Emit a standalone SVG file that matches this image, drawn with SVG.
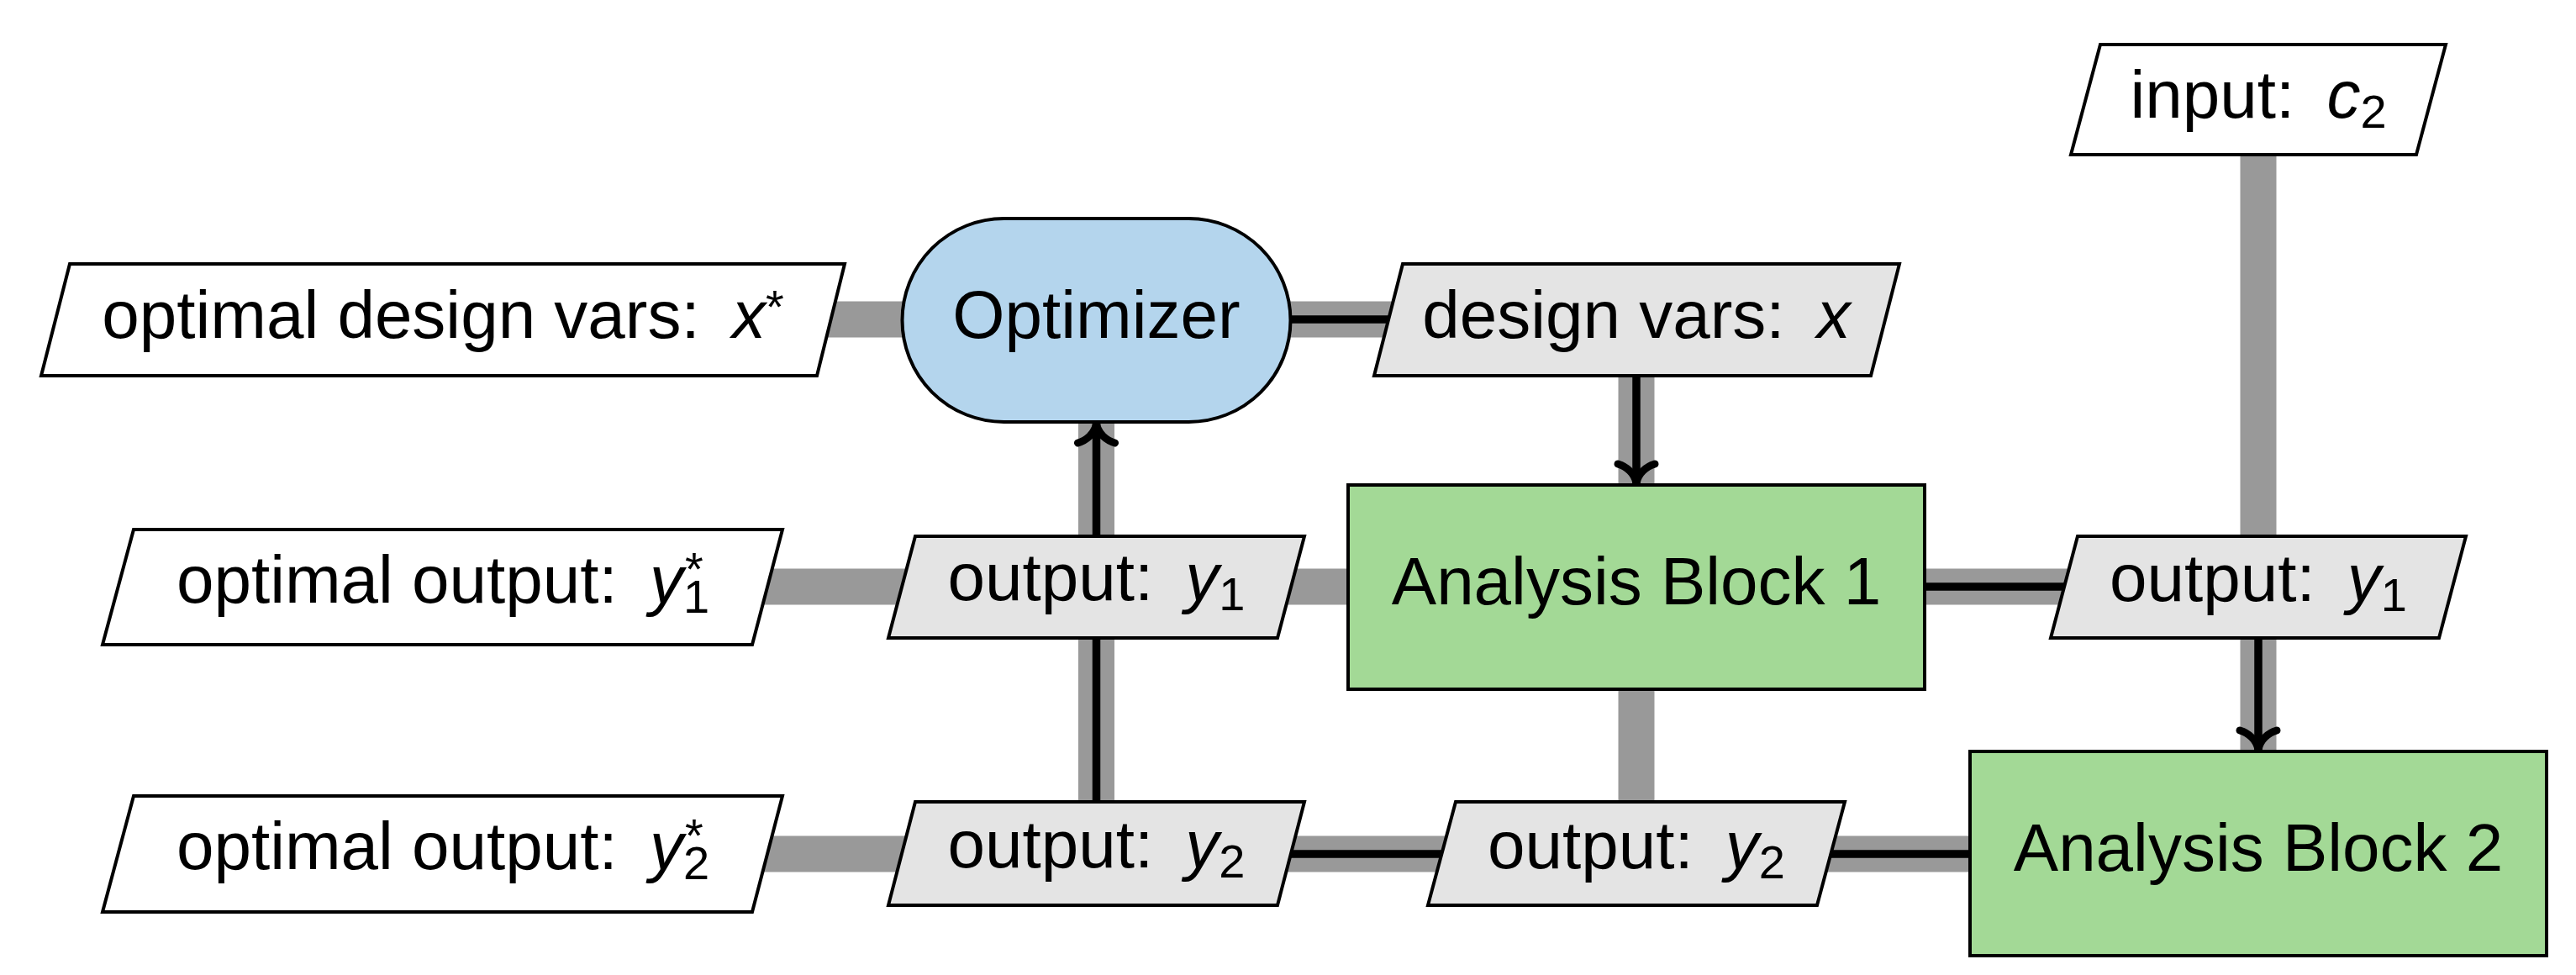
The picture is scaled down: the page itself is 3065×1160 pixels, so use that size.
<svg xmlns="http://www.w3.org/2000/svg" width="3065" height="1160" viewBox="0 0 3065 1160">
<style>
.bg{fill:#ffffff}
.data{fill:none;stroke:#999999;stroke-width:43;stroke-linecap:butt}
.proc{fill:none;stroke:#000000;stroke-width:9.5;stroke-linejoin:miter}
.io{fill:#ffffff;stroke:#000000;stroke-width:4;stroke-linejoin:miter}
.dat{fill:#e4e4e4;stroke:#000000;stroke-width:4;stroke-linejoin:miter}
.opt{fill:#b4d5ed;stroke:#000000;stroke-width:4}
.ana{fill:#a3d996;stroke:#000000;stroke-width:4}
.t{font-family:"Liberation Sans",Arial,sans-serif;font-size:80px;fill:#000000;text-anchor:middle}
.m{font-style:italic}
.s{font-size:56px}
</style>
<defs>
<marker id="arr" markerUnits="userSpaceOnUse" orient="auto" refX="0" refY="0" markerWidth="60" markerHeight="60" overflow="visible">
<path d="M-23,-22 C-20,-12 -12,-2 0,0 M-23,22 C-20,12 -12,2 0,0" fill="none" stroke="#000000" stroke-width="9" stroke-linecap="round"/>
</marker>
</defs>
<rect class="bg" x="0" y="0" width="3065" height="1160"/>
<g id="connectors">
<path class="data" d="M527,380 H1947"/>
<path class="data" d="M1947,380 V1016"/>
<path class="data" d="M1304.5,380 V1016"/>
<path class="data" d="M527,698 H2687"/>
<path class="data" d="M2687,118 V1016"/>
<path class="data" d="M527,1016 H2687"/>
<path class="proc" d="M1304.5,380 H1947 V575" marker-end="url(#arr)"/>
<path class="proc" d="M1947,698 H2687 V892" marker-end="url(#arr)"/>
<path class="proc" d="M2687,1016 H1304.5 V504" marker-end="url(#arr)"/>
</g>
<g id="node-xstar">
<polygon class="io" points="83,314 1005,314 972,447 49,447"/>
<text class="t" x="527" y="402">optimal design vars: <tspan class="m" dx="16">x</tspan><tspan class="s" dy="-18">*</tspan></text>
</g>
<g id="node-optimizer">
<rect class="opt" x="1073.5" y="260" width="462" height="242" rx="121" ry="121"/>
<text class="t" x="1304.5" y="402">Optimizer</text>
</g>
<g id="node-designvars">
<polygon class="dat" points="1669,314 2260,314 2226,447 1635,447"/>
<text class="t" x="1947" y="402">design vars: <tspan class="m" dx="16">x</tspan></text>
</g>
<g id="node-input-c2">
<polygon class="io" points="2499,53 2910,53 2875,184 2464,184"/>
<text class="t" x="2687" y="140">input: <tspan class="m" dx="16">c</tspan><tspan class="s" dy="12">2</tspan></text>
</g>
<g id="node-y1star">
<polygon class="io" points="159,630 931,630 895,767 122,767"/>
<text class="t" x="527" y="717">optimal output: <tspan class="m" dx="16">y</tspan><tspan class="s" dy="12">1</tspan><tspan class="s" dx="-29" dy="-33">*</tspan></text>
</g>
<g id="node-out-y1-left">
<polygon class="dat" points="1089,638 1552,638 1520,759 1057,759"/>
<text class="t" x="1304.5" y="714">output: <tspan class="m" dx="16">y</tspan><tspan class="s" dy="12">1</tspan></text>
</g>
<g id="node-analysis1">
<rect class="ana" x="1604" y="577" width="686" height="243"/>
<text class="t" x="1947" y="719">Analysis Block 1</text>
</g>
<g id="node-out-y1-right">
<polygon class="dat" points="2472,638 2934,638 2902,759 2440,759"/>
<text class="t" x="2687" y="715">output: <tspan class="m" dx="16">y</tspan><tspan class="s" dy="12">1</tspan></text>
</g>
<g id="node-y2star">
<polygon class="io" points="159,947 931,947 895,1085 122,1085"/>
<text class="t" x="527" y="1034">optimal output: <tspan class="m" dx="16">y</tspan><tspan class="s" dy="12">2</tspan><tspan class="s" dx="-29" dy="-33">*</tspan></text>
</g>
<g id="node-out-y2-left">
<polygon class="dat" points="1089,954 1552,954 1520,1077 1057,1077"/>
<text class="t" x="1304.5" y="1032">output: <tspan class="m" dx="16">y</tspan><tspan class="s" dy="12">2</tspan></text>
</g>
<g id="node-out-y2-mid">
<polygon class="dat" points="1732,954 2195,954 2162,1077 1699,1077"/>
<text class="t" x="1947" y="1033">output: <tspan class="m" dx="16">y</tspan><tspan class="s" dy="12">2</tspan></text>
</g>
<g id="node-analysis2">
<rect class="ana" x="2344" y="894" width="686" height="243"/>
<text class="t" x="2687" y="1036">Analysis Block 2</text>
</g>
</svg>
